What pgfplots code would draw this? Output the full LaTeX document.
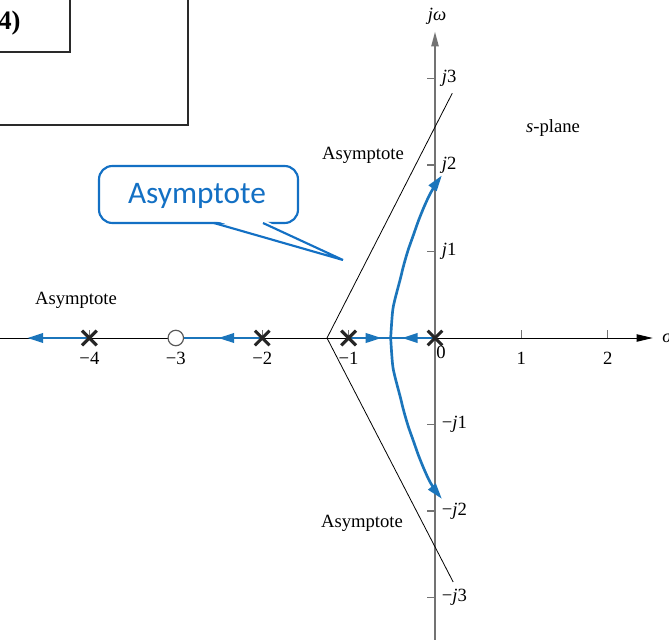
\documentclass[border=0pt]{standalone}
\usepackage{pgfplots}
\pgfplotsset{compat=1.18}
\usepackage{fontspec}
\setmainfont{Liberation Serif}
\newfontfamily\calibri{Carlito}
\usetikzlibrary{arrows.meta}

\definecolor{locus}{HTML}{1B75BB}
\definecolor{callout}{HTML}{1370C4}
\definecolor{frame}{HTML}{2A2A2A}

\newcommand{\lbl}{\fontsize{14}{16}\selectfont}

\begin{document}
\begin{tikzpicture}[x=0.75pt, y=-0.75pt]
\useasboundingbox (0,0) rectangle (669,640);
\clip (0,0) rectangle (669,640);

% figure frame in the corner
\draw[frame, line width=1.6pt] (-5,-5) rectangle (188,125);
\draw[frame, line width=1.6pt] (-5,-5) rectangle (70,52);
\node[anchor=west, inner sep=0pt, font=\fontsize{20}{22}\selectfont\bfseries] at (-2,23) {4)};

\begin{axis}[
  anchor=origin, at={(326.25pt,-253.5pt)},
  x=64.8pt, y=64.875pt,
  xmin=-5.1, xmax=2.52, ymin=-3.7, ymax=3.54,
  axis lines=middle,
  clip=false,
  x axis line style={black, line width=0.7pt, -{Triangle[length=12pt,width=5.5pt]}},
  y axis line style={black!55, line width=1.1pt, -{Triangle[length=11pt,width=5.5pt]}},
  xtick={-4,-3,-2,-1,1,2},
  xticklabels={−4,−3,−2,−1,1,2},
  ytick={-3,-2,-1,1,2,3},
  yticklabels={−\textit{j}3,−\textit{j}2,−\textit{j}1,\textit{j}1,\textit{j}2,\textit{j}3},
  xtick align=inside, ytick align=outside,
  major tick length=6pt,
  tick style={black!55, line width=0.8pt},
  xticklabel style={anchor=base, yshift=-20pt, inner sep=0pt, font=\lbl},
  yticklabel style={anchor=west, xshift=11pt, inner sep=0pt, font=\lbl},
]
% asymptotes
\addplot[black, line width=0.6pt] coordinates {(0.2,2.83) (-1.25,0) (0.21,-2.82)};

% real-axis locus segments
\addplot[locus, line width=2pt, -{Triangle[length=12pt,width=7pt]}] coordinates {(-4,0) (-4.72,0)};
\addplot[locus, line width=2pt, -{Triangle[length=12pt,width=7pt]}] coordinates {(-2,0) (-2.51,0)};
\addplot[locus, line width=2pt] coordinates {(-2.45,0) (-2.92,0)};
\addplot[locus, line width=2pt, -{Triangle[length=12pt,width=7pt]}] coordinates {(-1,0) (-0.617,0)};
\addplot[locus, line width=2pt, -{Triangle[length=12pt,width=7pt]}] coordinates {(0,0) (-0.385,0)};
\addplot[locus, line width=2pt] coordinates {(-0.65,0) (-0.35,0)};

% complex branches
\addplot[locus, line width=2pt, smooth, -{Triangle[length=12pt,width=7pt]}] coordinates {
  (-0.513,0) (-0.50,0.2) (-0.485,0.35) (-0.45,0.5) (-0.405,0.67) (-0.36,0.85)
  (-0.31,1.02) (-0.25,1.19) (-0.19,1.36) (-0.125,1.52) (-0.06,1.66) (0.01,1.78) (0.08,1.88)};
\addplot[locus, line width=2pt, smooth, -{Triangle[length=12pt,width=7pt]}] coordinates {
  (-0.513,0) (-0.50,-0.2) (-0.485,-0.35) (-0.45,-0.5) (-0.405,-0.67) (-0.36,-0.85)
  (-0.31,-1.02) (-0.25,-1.19) (-0.19,-1.36) (-0.125,-1.52) (-0.06,-1.66) (0.01,-1.77) (0.08,-1.86)};

% open-loop poles and zero
\addplot[only marks, mark=x, mark size=7.8pt, mark options={draw=black!85, line width=2.3pt}]
  coordinates {(-4,0) (-2,0) (-1,0) (0,0)};
\addplot[only marks, mark=*, mark size=5.8pt, mark options={draw=black!65, fill=white, line width=0.9pt}]
  coordinates {(-3,0)};
\end{axis}

% axis names and labels
\node[font=\lbl, inner sep=0pt] at (441,352) {0};
\node[font=\lbl, inner sep=0pt] at (437,16) {\textit{jω}};
\node[font=\lbl, inner sep=0pt, anchor=west] at (662,338) {\textit{σ}};
\node[font=\lbl, inner sep=0pt] at (553,128) {\textit{s}-plane};
\node[font=\lbl, inner sep=0pt] at (363,155) {Asymptote};
\node[font=\lbl, inner sep=0pt] at (362,523) {Asymptote};
\node[font=\lbl, inner sep=0pt] at (76,300) {Asymptote};

% callout box with its pointer
\draw[callout, line width=1.6pt, fill=white, rounded corners=10pt] (99,166) rectangle (298,223);
\fill[white] (213,220) -- (343,260) -- (264,220) -- cycle;
\draw[callout, line width=1.6pt, line join=miter] (214,223) -- (343,260) -- (263,223);
\node[callout, font=\calibri\fontsize{23.5}{26}\selectfont, inner sep=0pt] at (197,196) {Asymptote};
\end{tikzpicture}
\end{document}
